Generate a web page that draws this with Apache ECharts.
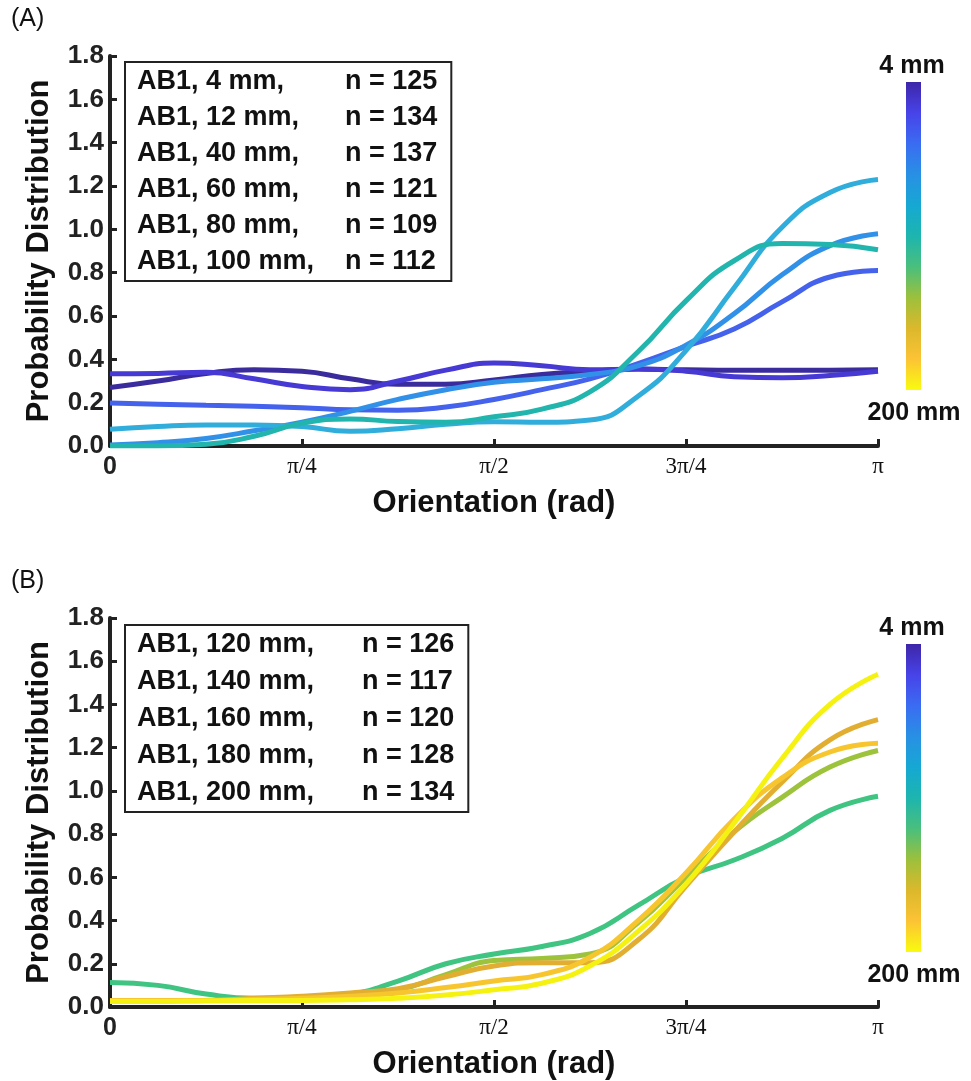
<!DOCTYPE html>
<html>
<head>
<meta charset="utf-8">
<script src="https://cdn.jsdelivr.net/npm/echarts@6/dist/echarts.min.js"></script>
<style>
html,body{margin:0;padding:0;background:#fff;}
#chart{width:971px;height:1081px;}
</style>
</head>
<body>
<div id="chart"></div>
<script>
// ---- data ----
const orientation = [0, 0.196, 0.393, 0.589, 0.785, 0.982, 1.178, 1.374, 1.571, 1.767, 1.963, 2.160, 2.356, 2.553, 2.749, 2.945, 3.14159];
const xTickLabels = ['0', 'π/4', 'π/2', '3π/4', 'π'];

const namesA = ['AB1, 4 mm,', 'AB1, 12 mm,', 'AB1, 40 mm,', 'AB1, 60 mm,', 'AB1, 80 mm,', 'AB1, 100 mm,'];
const countsA = [125, 134, 137, 121, 109, 112];
const ab1_4mm   = [0.27, 0.30, 0.335, 0.352, 0.345, 0.31, 0.285, 0.285, 0.305, 0.33, 0.345, 0.355, 0.352, 0.35, 0.35, 0.35, 0.352];
const ab1_12mm  = [0.333, 0.335, 0.34, 0.31, 0.275, 0.26, 0.30, 0.35, 0.383, 0.37, 0.352, 0.355, 0.345, 0.32, 0.315, 0.325, 0.345];
const ab1_40mm  = [0.198, 0.193, 0.188, 0.183, 0.177, 0.167, 0.165, 0.18, 0.215, 0.26, 0.31, 0.38, 0.46, 0.54, 0.665, 0.78, 0.81];
const ab1_60mm  = [0.005, 0.015, 0.035, 0.07, 0.11, 0.16, 0.215, 0.26, 0.294, 0.31, 0.33, 0.37, 0.465, 0.61, 0.79, 0.925, 0.98];
const ab1_80mm  = [0.077, 0.09, 0.097, 0.097, 0.09, 0.068, 0.08, 0.1, 0.112, 0.11, 0.12, 0.23, 0.44, 0.73, 1.01, 1.17, 1.23];
const ab1_100mm = [0.0, 0.0, 0.008, 0.045, 0.105, 0.125, 0.113, 0.11, 0.135, 0.17, 0.25, 0.435, 0.67, 0.855, 0.935, 0.93, 0.906];

const namesB = ['AB1, 120 mm,', 'AB1, 140 mm,', 'AB1, 160 mm,', 'AB1, 180 mm,', 'AB1, 200 mm,'];
const countsB = [126, 117, 120, 128, 134];
const ab1_120mm = [0.113, 0.10, 0.06, 0.04, 0.045, 0.06, 0.12, 0.20, 0.245, 0.28, 0.34, 0.47, 0.60, 0.68, 0.78, 0.91, 0.975];
const ab1_140mm = [0.03, 0.03, 0.03, 0.035, 0.045, 0.06, 0.08, 0.15, 0.215, 0.225, 0.245, 0.39, 0.60, 0.81, 0.97, 1.11, 1.187];
const ab1_160mm = [0.03, 0.03, 0.03, 0.04, 0.05, 0.065, 0.085, 0.14, 0.19, 0.205, 0.205, 0.31, 0.56, 0.81, 1.04, 1.236, 1.33];
const ab1_180mm = [0.03, 0.03, 0.03, 0.035, 0.04, 0.05, 0.065, 0.09, 0.12, 0.15, 0.23, 0.40, 0.62, 0.87, 1.06, 1.18, 1.22];
const ab1_200mm = [0.025, 0.025, 0.028, 0.03, 0.03, 0.033, 0.04, 0.055, 0.08, 0.11, 0.19, 0.35, 0.57, 0.85, 1.15, 1.40, 1.54];

const seriesA = [ab1_4mm, ab1_12mm, ab1_40mm, ab1_60mm, ab1_80mm, ab1_100mm];
const seriesB = [ab1_120mm, ab1_140mm, ab1_160mm, ab1_180mm, ab1_200mm];
const colorsA = ['#3b2c9e', '#4639d4', '#4462ec', '#3190e8', '#31addb', '#22b5ad'];
const colorsB = ['#3fc482', '#9dc33c', '#e2ae32', '#f7c62e', '#f5f212'];
const colorbarStops = [
  [0, '#3e26a8'], [0.1, '#4743e8'], [0.2, '#3a6cf2'], [0.3, '#2890e4'], [0.4, '#16a8d3'],
  [0.5, '#1db5ae'], [0.6, '#4abf7c'], [0.7, '#9cc03c'], [0.8, '#dcb82c'], [0.9, '#fcc335'], [1, '#f9fb0e']
];

// ---- layout / styles ----
const BOLD = 'Liberation Sans, Arial, sans-serif';
const AX = '#222';

function xAxis(gi) {
  return {
    type: 'value', gridIndex: gi, min: 0, max: Math.PI, interval: Math.PI / 4,
    axisLine: { lineStyle: { color: AX, width: 4 } },
    axisTick: { inside: true, length: 7, lineStyle: { color: AX, width: 3 } },
    splitLine: { show: false },
    axisLabel: {
      margin: 9, color: '#111',
      formatter: v => {
        const i = Math.round(v / (Math.PI / 4));
        return i === 0 ? '{z|' + xTickLabels[i] + '}' : '{p|' + xTickLabels[i] + '}';
      },
      rich: {
        p: { fontFamily: "'Liberation Serif', 'Times New Roman', serif", fontSize: 23, color: '#111' },
        z: { fontFamily: BOLD, fontWeight: 'bold', fontSize: 25, color: '#222' }
      }
    },
    name: 'Orientation (rad)', nameLocation: 'middle', nameGap: 42,
    nameTextStyle: { fontFamily: BOLD, fontWeight: 'bold', fontSize: 31, color: '#111' }
  };
}
function yAxis(gi) {
  return {
    type: 'value', gridIndex: gi, min: 0, max: 1.8, interval: 0.2,
    axisLine: { show: true, lineStyle: { color: AX, width: 4 } },
    axisTick: { show: true, inside: true, length: 7, lineStyle: { color: AX, width: 3 } },
    splitLine: { show: false },
    axisLabel: {
      margin: 6, color: '#222', fontFamily: BOLD, fontWeight: 'bold', fontSize: 26,
      formatter: v => v.toFixed(1)
    },
    name: 'Probability Distribution', nameLocation: 'middle', nameGap: 55,
    nameTextStyle: { fontFamily: BOLD, fontWeight: 'bold', fontSize: 31, color: '#111' }
  };
}
function legend(names, counts, top, nameWidth, gap) {
  return {
    orient: 'vertical', left: 125, top: top,
    data: names,
    icon: 'rect', itemWidth: 0, itemHeight: 0, itemGap: gap,
    padding: [6, 14, 6, 7],
    backgroundColor: '#fff', borderColor: '#222', borderWidth: 2,
    selectedMode: false,
    formatter: n => '{a|' + n + '}{b|n = ' + counts[names.indexOf(n)] + '}',
    textStyle: {
      color: '#111', fontFamily: BOLD, fontWeight: 'bold', fontSize: 27, lineHeight: 26,
      rich: {
        a: { width: nameWidth, fontFamily: BOLD, fontWeight: 'bold', fontSize: 27, color: '#111' },
        b: { fontFamily: BOLD, fontWeight: 'bold', fontSize: 27, color: '#111' }
      }
    }
  };
}
function colorbar(top) {
  const grad = new echarts.graphic.LinearGradient(0, 0, 0, 1,
    colorbarStops.map(s => ({ offset: s[0], color: s[1] })));
  return [
    { type: 'rect', left: 906, top: top, shape: { width: 15, height: 308 }, style: { fill: grad } },
    { type: 'text', x: 912, y: top - 16, style: { text: '4 mm', fill: '#111', font: 'bold 25px ' + BOLD, textAlign: 'center', textVerticalAlign: 'middle' } },
    { type: 'text', x: 914, y: top + 331, style: { text: '200 mm', fill: '#111', font: 'bold 25px ' + BOLD, textAlign: 'center', textVerticalAlign: 'middle' } }
  ];
}

const series = [];
seriesA.forEach((d, i) => series.push({
  name: namesA[i], type: 'line', xAxisIndex: 0, yAxisIndex: 0, smooth: true, showSymbol: false,
  lineStyle: { width: 5, color: colorsA[i] }, itemStyle: { color: colorsA[i] },
  data: orientation.map((x, k) => [x, d[k]])
}));
seriesB.forEach((d, i) => series.push({
  name: namesB[i], type: 'line', xAxisIndex: 1, yAxisIndex: 1, smooth: true, showSymbol: false,
  lineStyle: { width: 5, color: colorsB[i] }, itemStyle: { color: colorsB[i] },
  data: orientation.map((x, k) => [x, d[k]])
}));

const chart = echarts.init(document.getElementById('chart'), null, { renderer: 'canvas' });
chart.setOption({
  animation: false,
  backgroundColor: '#fff',
  grid: [
    { left: 110, right: 93, top: 56, height: 390 },
    { left: 110, right: 93, top: 618, height: 389 }
  ],
  xAxis: [xAxis(0), xAxis(1)],
  yAxis: [yAxis(0), yAxis(1)],
  legend: [
    legend(namesA, countsA, 62, 208, 9),
    legend(namesB, countsB, 625, 225, 10)
  ],
  series: series,
  graphic: [
    { type: 'text', x: 11, y: 19, style: { text: '(A)', fill: '#111', font: '25px ' + BOLD, textVerticalAlign: 'middle' } },
    { type: 'text', x: 11, y: 581, style: { text: '(B)', fill: '#111', font: '25px ' + BOLD, textVerticalAlign: 'middle' } },
    ...colorbar(82),
    ...colorbar(644)
  ]
});
</script>
</body>
</html>
